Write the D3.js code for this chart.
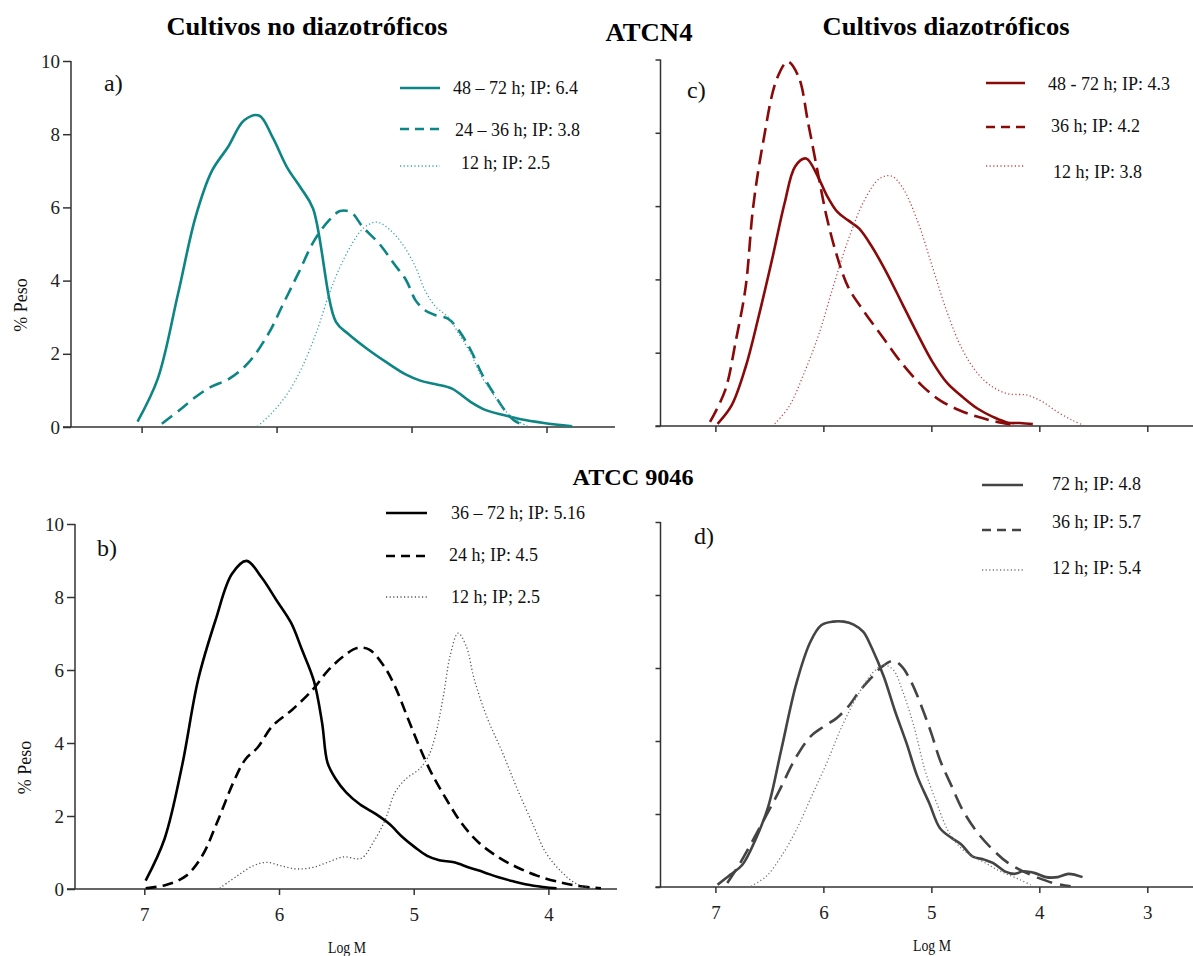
<!DOCTYPE html>
<html>
<head>
<meta charset="utf-8">
<script src="https://cdn.jsdelivr.net/npm/d3@7"></script>
<style>
  body { margin: 0; background: #fff; }
  svg text { font-family: "Times New Roman", "Liberation Serif", "DejaVu Serif", serif; }
</style>
</head>
<body>
<div id="chart"></div>
<script>
// ---- data (Log M, % Peso) ----
// a) ATCN4, non diazotrophic
var a_48_72 = [[7.03,0.15],[6.88,1.32],[6.73,3.64],[6.60,5.74],[6.48,6.99],[6.36,7.65],[6.24,8.38],[6.13,8.51],[6.03,7.92],[5.92,7.08],[5.82,6.53],[5.73,5.97],[5.56,2.87],[5.47,2.55],[5.33,2.14],[5.19,1.78],[5.04,1.43],[4.93,1.26],[4.82,1.17],[4.70,1.05],[4.56,0.68],[4.45,0.46],[4.31,0.32],[4.19,0.21],[4.02,0.11],[3.81,0.02]];
var a_24_36 = [[6.85,0.09],[6.72,0.46],[6.60,0.82],[6.49,1.09],[6.35,1.32],[6.21,1.75],[6.06,2.55],[5.95,3.37],[5.84,4.19],[5.72,5.10],[5.61,5.65],[5.53,5.90],[5.45,5.87],[5.36,5.46],[5.24,5.01],[5.13,4.46],[5.04,4.01],[4.97,3.46],[4.90,3.19],[4.82,3.05],[4.73,2.96],[4.65,2.64],[4.56,2.09],[4.48,1.46],[4.39,0.91],[4.31,0.46],[4.24,0.18],[4.15,0.02]];
var a_12 = [[6.14,0.02],[6.04,0.36],[5.92,0.91],[5.81,1.64],[5.70,2.64],[5.61,3.64],[5.53,4.37],[5.44,5.01],[5.36,5.42],[5.26,5.60],[5.17,5.42],[5.07,5.01],[4.97,4.37],[4.90,3.73],[4.82,3.28],[4.73,3.01],[4.65,2.55],[4.56,2.00],[4.48,1.37],[4.39,0.87],[4.31,0.46],[4.22,0.18],[4.14,0.02]];
// b) ATCC 9046, non diazotrophic
var b_36_72 = [[6.99,0.23],[6.85,1.37],[6.72,3.37],[6.60,5.74],[6.47,7.38],[6.35,8.63],[6.24,8.99],[6.13,8.54],[6.02,7.92],[5.91,7.29],[5.83,6.56],[5.74,5.69],[5.68,4.55],[5.64,3.46],[5.58,3.02],[5.50,2.64],[5.40,2.32],[5.28,2.05],[5.18,1.78],[5.08,1.41],[4.99,1.14],[4.90,0.91],[4.81,0.79],[4.70,0.73],[4.59,0.59],[4.48,0.46],[4.37,0.32],[4.26,0.21],[4.11,0.09],[3.94,0.02]];
var b_24 = [[6.99,0.02],[6.84,0.11],[6.69,0.36],[6.57,0.91],[6.46,1.82],[6.34,2.91],[6.25,3.55],[6.16,3.87],[6.05,4.46],[5.90,4.92],[5.75,5.46],[5.64,5.97],[5.52,6.38],[5.42,6.60],[5.33,6.56],[5.22,6.10],[5.14,5.56],[5.05,4.74],[4.96,3.92],[4.87,3.19],[4.75,2.41],[4.64,1.78],[4.52,1.28],[4.37,0.87],[4.23,0.59],[4.08,0.36],[3.93,0.20],[3.79,0.09],[3.61,0.02]];
var b_12 = [[6.44,0.02],[6.31,0.36],[6.19,0.64],[6.09,0.73],[5.99,0.64],[5.87,0.55],[5.75,0.59],[5.64,0.73],[5.52,0.88],[5.39,0.84],[5.30,1.28],[5.21,1.91],[5.14,2.64],[5.06,3.01],[4.96,3.28],[4.89,3.64],[4.84,4.19],[4.78,5.28],[4.73,6.38],[4.67,7.01],[4.61,6.65],[4.55,5.74],[4.46,4.74],[4.34,3.73],[4.23,2.73],[4.11,1.73],[4.02,1.00],[3.90,0.46],[3.79,0.14],[3.67,0.02]];
// c) ATCN4, diazotrophic
var c_48_72 = [[6.98,0.06],[6.85,0.56],[6.72,1.61],[6.60,2.98],[6.47,4.61],[6.36,6.07],[6.26,7.09],[6.16,7.30],[6.05,6.80],[5.97,6.30],[5.87,5.84],[5.77,5.61],[5.67,5.39],[5.55,4.89],[5.41,4.16],[5.27,3.34],[5.13,2.52],[4.99,1.75],[4.85,1.16],[4.71,0.79],[4.57,0.47],[4.43,0.25],[4.29,0.09],[4.18,0.08],[4.06,0.05]];
var c_36 = [[7.05,0.11],[6.91,0.97],[6.81,2.34],[6.72,3.79],[6.65,5.98],[6.56,7.71],[6.43,9.48],[6.33,9.94],[6.23,9.53],[6.14,8.25],[6.05,6.89],[5.97,5.71],[5.88,4.70],[5.77,3.79],[5.62,3.11],[5.44,2.38],[5.27,1.70],[5.09,1.11],[4.92,0.70],[4.74,0.43],[4.57,0.25],[4.39,0.11],[4.22,0.02]];
var c_12 = [[6.45,0.06],[6.32,0.52],[6.18,1.43],[6.04,2.52],[5.90,3.89],[5.76,5.16],[5.62,6.16],[5.48,6.75],[5.37,6.82],[5.27,6.52],[5.13,5.61],[4.99,4.34],[4.85,3.07],[4.71,2.07],[4.57,1.43],[4.43,1.06],[4.29,0.88],[4.11,0.84],[3.97,0.66],[3.83,0.38],[3.69,0.15],[3.59,0.02]];
// d) ATCC 9046, diazotrophic
var d_72 = [[6.98,0.06],[6.86,0.34],[6.75,0.61],[6.63,1.29],[6.51,2.21],[6.39,3.76],[6.25,5.58],[6.12,6.72],[6.02,7.17],[5.91,7.27],[5.81,7.27],[5.72,7.19],[5.63,6.99],[5.55,6.54],[5.44,5.76],[5.34,4.85],[5.23,3.94],[5.13,3.03],[5.02,2.30],[4.92,1.61],[4.81,1.34],[4.72,1.16],[4.62,0.84],[4.51,0.75],[4.43,0.66],[4.32,0.43],[4.23,0.36],[4.15,0.43],[4.04,0.38],[3.94,0.27],[3.83,0.27],[3.73,0.36],[3.60,0.27]];
var d_36 = [[6.89,0.11],[6.77,0.66],[6.60,1.57],[6.42,2.57],[6.25,3.57],[6.12,4.12],[6.00,4.39],[5.88,4.62],[5.77,4.94],[5.67,5.35],[5.56,5.72],[5.46,6.03],[5.35,6.20],[5.27,6.03],[5.18,5.58],[5.09,4.94],[5.00,4.21],[4.92,3.48],[4.81,2.75],[4.71,2.11],[4.57,1.48],[4.43,1.02],[4.29,0.66],[4.15,0.43],[4.01,0.25],[3.87,0.11],[3.71,0.02]];
var d_12 = [[6.67,0.02],[6.53,0.29],[6.39,0.84],[6.25,1.57],[6.11,2.48],[5.97,3.39],[5.83,4.39],[5.69,5.21],[5.55,5.85],[5.44,6.08],[5.35,5.94],[5.27,5.40],[5.16,4.39],[5.06,3.21],[4.95,2.30],[4.85,1.57],[4.74,1.11],[4.62,0.84],[4.50,0.66],[4.39,0.47],[4.29,0.34],[4.18,0.20],[4.08,0.06]];

var legendA = ["48 \u2013 72 h; IP: 6.4", "24 \u2013 36 h; IP: 3.8", "12 h; IP: 2.5"];
var legendB = ["36 \u2013 72 h; IP: 5.16", "24 h; IP: 4.5", "12 h; IP; 2.5"];
var legendC = ["48 - 72 h; IP: 4.3", "36 h; IP: 4.2", "12 h; IP: 3.8"];
var legendD = ["72 h; IP: 4.8", "36 h; IP: 5.7", "12 h; IP: 5.4"];

var yTicks = [0, 2, 4, 6, 8, 10];
var xTicksLeft = [7, 6, 5, 4];
var xTicksRight = [7, 6, 5, 4, 3];

var SERIF = "'Times New Roman', 'Liberation Serif', 'DejaVu Serif', serif";
var W = 1193, H = 956;
var svg = d3.select("#chart").append("svg").attr("width", W).attr("height", H)
    .attr("font-family", SERIF);

// panel layout
var panels = [
  { id: "a", series: [a_48_72, a_24_36, a_12], legend: legendA, color: "#0d8585", dotColor: "#3aa3a3",
    yAx: 71, xEnd: 615, xr: [141.6, 546.5], yr: [427, 61], xTicks: xTicksLeft, xLabels: false, yLabels: true, yTick: 8,
    dash: "13,7", tag: [104, 91],
    leg: { lx: [400, 440], ly: [88, 129, 166], tx: [453, 455, 461], ty: [94, 136, 169] } },
  { id: "b", series: [b_36_72, b_24, b_12], legend: legendB, color: "#000", dotColor: "#555",
    yAx: 75, xEnd: 617, xr: [144.3, 548.4], yr: [889, 524], xTicks: xTicksLeft, xLabels: true, yLabels: true, yTick: 8,
    dash: "11,6", tag: [97, 556], logM: [347, 953],
    leg: { lx: [386, 427], ly: [513, 556, 597], tx: [451, 449, 451], ty: [519, 561, 603] } },
  { id: "c", series: [c_48_72, c_36, c_12], legend: legendC, color: "#8a0a0a", dotColor: "#c04848",
    yAx: 660.5, xEnd: 1193, xr: [715.4, 1147.3], yr: [426, 59.5], xTicks: xTicksRight, xLabels: false, yLabels: false, yTick: 5,
    dash: "15,7", tag: [687, 98],
    leg: { lx: [986, 1025], ly: [83, 127, 166], tx: [1048, 1051, 1053], ty: [90, 132, 178] } },
  { id: "d", series: [d_72, d_36, d_12], legend: legendD, color: "#444", dotColor: "#777",
    yAx: 660.5, xEnd: 1193, xr: [715.4, 1147.3], yr: [887, 522], xTicks: xTicksRight, xLabels: true, yLabels: false, yTick: 5,
    dash: "16,8", tag: [694, 544], logM: [932, 951],
    leg: { lx: [982, 1023], ly: [485, 530, 570], tx: [1052, 1052, 1052], ty: [490, 528, 574] } }
];

panels.forEach(function(p) {
  var t0 = p.xTicks[0], t1 = p.xTicks[p.xTicks.length - 1];
  var x = d3.scaleLinear().domain([t0, t1]).range(p.xr);
  var y = d3.scaleLinear().domain([0, 10]).range(p.yr);
  var g = svg.append("g");

  // x axis
  var xa = g.append("g")
      .attr("transform", "translate(0," + p.yr[0] + ")")
      .call(d3.axisBottom(x).tickValues(p.xTicks).tickSize(6).tickSizeOuter(0).tickPadding(13)
        .tickFormat(p.xLabels ? d3.format("d") : ""));
  xa.select(".domain").attr("d", "M" + (p.yAx - p.yTick) + ",0H" + p.xEnd);
  // y axis
  var ya = g.append("g")
      .attr("transform", "translate(" + p.yAx + ",0)")
      .call(d3.axisLeft(y).tickValues(yTicks).tickSize(p.yTick).tickSizeOuter(0).tickPadding(3)
        .tickFormat(p.yLabels ? d3.format("d") : ""));
  ya.select(".domain").attr("d", "M0," + p.yr[0] + "V" + p.yr[1]);
  xa.attr("font-family", SERIF).attr("font-size", 19);
  ya.attr("font-family", SERIF).attr("font-size", 19);
  g.selectAll(".domain, .tick line").attr("stroke", "#333").attr("stroke-width", 1.5);
  g.selectAll(".tick text").attr("fill", "#222");

  // curves
  var line = d3.line().x(function(d) { return x(d[0]); }).y(function(d) { return y(d[1]); })
      .curve(d3.curveCatmullRom.alpha(0.5));
  var styles = [
    { dash: null, w: 2.6, c: p.color },
    { dash: p.dash, w: 2.6, c: p.color },
    { dash: "1.2,2.4", w: 1.3, c: p.dotColor }
  ];
  p.series.forEach(function(s, i) {
    g.append("path").datum(s).attr("d", line)
      .attr("fill", "none").attr("stroke", styles[i].c)
      .attr("stroke-width", styles[i].w)
      .attr("stroke-dasharray", styles[i].dash);
  });

  // legend
  p.legend.forEach(function(lbl, i) {
    g.append("line").attr("x1", p.leg.lx[0]).attr("x2", p.leg.lx[1])
      .attr("y1", p.leg.ly[i]).attr("y2", p.leg.ly[i])
      .attr("stroke", styles[i].c).attr("stroke-width", i == 2 ? 1.3 : 2.6)
      .attr("stroke-dasharray", i == 1 ? "9,6" : styles[i].dash);
    g.append("text").attr("x", p.leg.tx[i]).attr("y", p.leg.ty[i])
      .attr("font-size", 18).attr("fill", "#111").text(lbl);
  });

  // panel tag
  g.append("text").attr("x", p.tag[0]).attr("y", p.tag[1]).attr("font-size", 24).attr("fill", "#111").text(p.id + ")");

  if (p.yLabels) {
    var cy = (p.yr[0] + p.yr[1]) / 2 + 61;
    g.append("text").attr("transform", "translate(" + (p.yAx - 44) + "," + cy + ") rotate(-90)")
      .attr("text-anchor", "middle").attr("font-size", 18).attr("fill", "#111").text("% Peso");
  }
  if (p.logM) {
    g.append("text").attr("x", p.logM[0]).attr("y", p.logM[1]).attr("text-anchor", "middle")
      .attr("font-size", 16).attr("textLength", 38).attr("lengthAdjust", "spacingAndGlyphs")
      .attr("fill", "#111").text("Log M");
  }
});

// titles
var titles = [
  { t: "Cultivos no diazotr\u00f3ficos", x: 307, y: 35, s: 26, w: 281 },
  { t: "ATCN4", x: 649, y: 41, s: 26, w: 87 },
  { t: "Cultivos diazotr\u00f3ficos", x: 946, y: 35, s: 26, w: 247 },
  { t: "ATCC 9046", x: 633, y: 485, s: 24, w: 121 }
];
titles.forEach(function(d) {
  svg.append("text").attr("x", d.x).attr("y", d.y).attr("text-anchor", "middle")
    .attr("font-size", d.s).attr("font-weight", "bold").attr("fill", "#000")
    .attr("textLength", d.w).attr("lengthAdjust", "spacingAndGlyphs").text(d.t);
});
</script>
</body>
</html>
